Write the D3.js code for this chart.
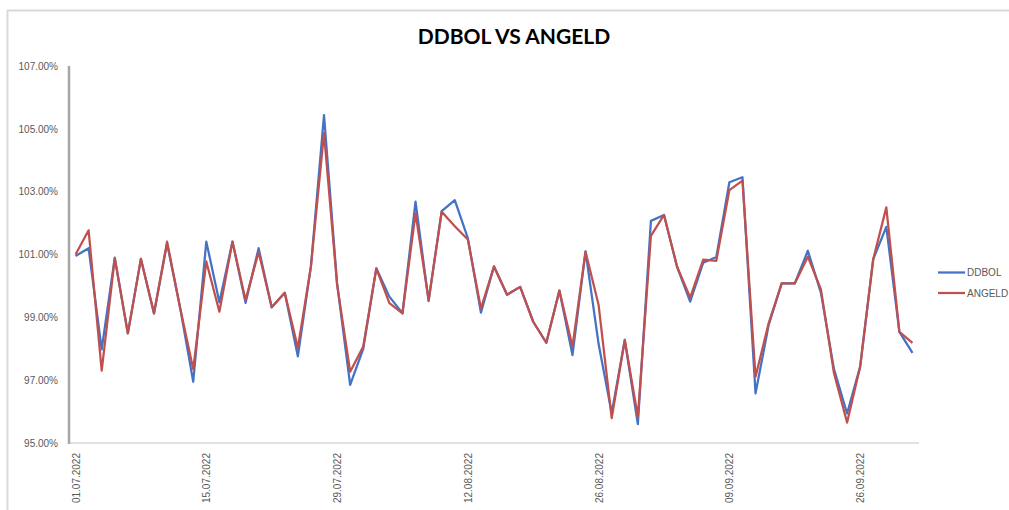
<!DOCTYPE html>
<html>
<head>
<meta charset="utf-8">
<script src="https://cdn.jsdelivr.net/npm/d3@7"></script>
<style>
  html, body { margin: 0; padding: 0; background: #fff; }
  svg { display: block; }
</style>
</head>
<body>
<svg id="chart" width="1009" height="510"></svg>
<script>
const title = "DDBOL VS ANGELD";
const seriesNames = ["DDBOL", "ANGELD"];
const seriesColors = ["#4472C4", "#C0504D"];

const dates = [
  "01.07.2022","04.07.2022","05.07.2022","06.07.2022","07.07.2022","08.07.2022","11.07.2022","12.07.2022","13.07.2022","14.07.2022",
  "15.07.2022","18.07.2022","19.07.2022","20.07.2022","21.07.2022","22.07.2022","25.07.2022","26.07.2022","27.07.2022","28.07.2022",
  "29.07.2022","01.08.2022","02.08.2022","03.08.2022","04.08.2022","05.08.2022","08.08.2022","09.08.2022","10.08.2022","11.08.2022",
  "12.08.2022","15.08.2022","16.08.2022","17.08.2022","18.08.2022","19.08.2022","22.08.2022","23.08.2022","24.08.2022","25.08.2022",
  "26.08.2022","29.08.2022","30.08.2022","31.08.2022","01.09.2022","02.09.2022","05.09.2022","06.09.2022","07.09.2022","08.09.2022",
  "09.09.2022","12.09.2022","13.09.2022","14.09.2022","15.09.2022","16.09.2022","19.09.2022","20.09.2022","21.09.2022","23.09.2022",
  "26.09.2022","27.09.2022","28.09.2022","29.09.2022","30.09.2022"
];

const ddbol = [
  100.95, 101.20, 97.98, 100.90, 98.49, 100.86, 99.12, 101.35, 99.30, 96.95,
  101.41, 99.48, 101.41, 99.46, 101.20, 99.32, 99.78, 97.76, 100.62, 105.44,
  100.08, 96.85, 98.00, 100.56, 99.66, 99.13, 102.68, 99.52, 102.38, 102.73,
  101.52, 99.15, 100.62, 99.72, 99.97, 98.86, 98.19, 99.85, 97.80, 101.10,
  98.15, 95.95, 98.28, 95.60, 102.07, 102.26, 100.61, 99.50, 100.74, 100.92,
  103.30, 103.46, 96.58, 98.75, 100.08, 100.08, 101.12, 99.78, 97.35, 95.94,
  97.43, 100.85, 101.88, 98.54, 97.87
];

const angeld = [
  101.00, 101.77, 97.30, 100.88, 98.49, 100.86, 99.13, 101.41, 99.30, 97.35,
  100.78, 99.18, 101.41, 99.55, 101.08, 99.32, 99.78, 98.03, 100.62, 104.86,
  100.05, 97.27, 98.07, 100.56, 99.45, 99.13, 102.31, 99.55, 102.36, 101.90,
  101.48, 99.28, 100.62, 99.72, 99.97, 98.86, 98.19, 99.85, 98.07, 101.09,
  99.39, 95.79, 98.28, 95.84, 101.59, 102.26, 100.61, 99.63, 100.84, 100.80,
  103.05, 103.35, 97.11, 98.81, 100.08, 100.08, 100.93, 99.89, 97.22, 95.65,
  97.43, 100.85, 102.50, 98.54, 98.19
];

const xTickLabels = ["01.07.2022","15.07.2022","29.07.2022","12.08.2022","26.08.2022","09.09.2022","26.09.2022"];
const yTicks = [95, 97, 99, 101, 103, 105, 107];

const svg = d3.select("#chart");
const mLeft = 69, mRight = 919, mTop = 66, mBottom = 443;

// chart border (top and left visible)
svg.append("path")
  .attr("d", "M7.5,520 L7.5,10.5 L1020,10.5")
  .attr("fill", "none").attr("stroke", "#d9d9d9").attr("stroke-width", 2);

const x = d3.scalePoint().domain(dates).range([mLeft, mRight]).padding(0.5);
const y = d3.scaleLinear().domain([95, 107]).range([mBottom, mTop]);

// title
svg.append("text")
  .attr("x", 514).attr("y", 44)
  .attr("text-anchor", "middle")
  .attr("font-family", "Lato, 'Open Sans', sans-serif")
  .attr("font-weight", "bold")
  .attr("font-size", 21)
  .attr("fill", "#000")
  .text(title);

// Y axis
const yAxis = d3.axisLeft(y).tickValues(yTicks).tickSize(0).tickPadding(11)
  .tickFormat(d => d.toFixed(2) + "%");
const gy = svg.append("g").attr("transform", `translate(${mLeft},0)`).call(yAxis);
gy.select(".domain").remove();
gy.selectAll("text")
  .attr("font-family", "'Liberation Sans', Arial, sans-serif")
  .attr("font-size", 10).attr("fill", "#595959");

// X axis
const xAxis = d3.axisBottom(x).tickValues(xTickLabels).tickSize(0).tickPadding(0);
const gx = svg.append("g").attr("transform", `translate(0,${mBottom})`).call(xAxis);
gx.select(".domain").remove();
gx.selectAll("text")
  .attr("font-family", "'Liberation Sans', Arial, sans-serif")
  .attr("font-size", 10).attr("fill", "#595959")
  .attr("transform", "rotate(-90)")
  .attr("text-anchor", "end")
  .attr("x", -10).attr("y", 0).attr("dy", "0.35em");

// axis lines
svg.append("line").attr("x1", mLeft).attr("x2", mRight).attr("y1", mBottom).attr("y2", mBottom)
  .attr("stroke", "#d9d9d9").attr("stroke-width", 1.5);
svg.append("line").attr("x1", mLeft).attr("x2", mLeft).attr("y1", mTop).attr("y2", mBottom + 1)
  .attr("stroke", "#a6a6a6").attr("stroke-width", 2.5);

// lines
const line = d3.line().x((d, i) => x(dates[i])).y(d => y(d));
[ddbol, angeld].forEach((s, k) => {
  svg.append("path").datum(s)
    .attr("d", line)
    .attr("fill", "none")
    .attr("stroke", seriesColors[k])
    .attr("stroke-width", 2.25)
    .attr("stroke-linejoin", "round");
});

// legend
const lg = svg.append("g");
seriesNames.forEach((n, k) => {
  const ly = 272.5 + k * 20.5;
  lg.append("line").attr("x1", 938).attr("x2", 965).attr("y1", ly).attr("y2", ly)
    .attr("stroke", seriesColors[k]).attr("stroke-width", 2.25);
  lg.append("text").attr("x", 967).attr("y", ly).attr("dy", "0.35em")
    .attr("font-family", "'Liberation Sans', Arial, sans-serif")
    .attr("font-size", 10).attr("fill", "#595959").text(n);
});
</script>
</body>
</html>
